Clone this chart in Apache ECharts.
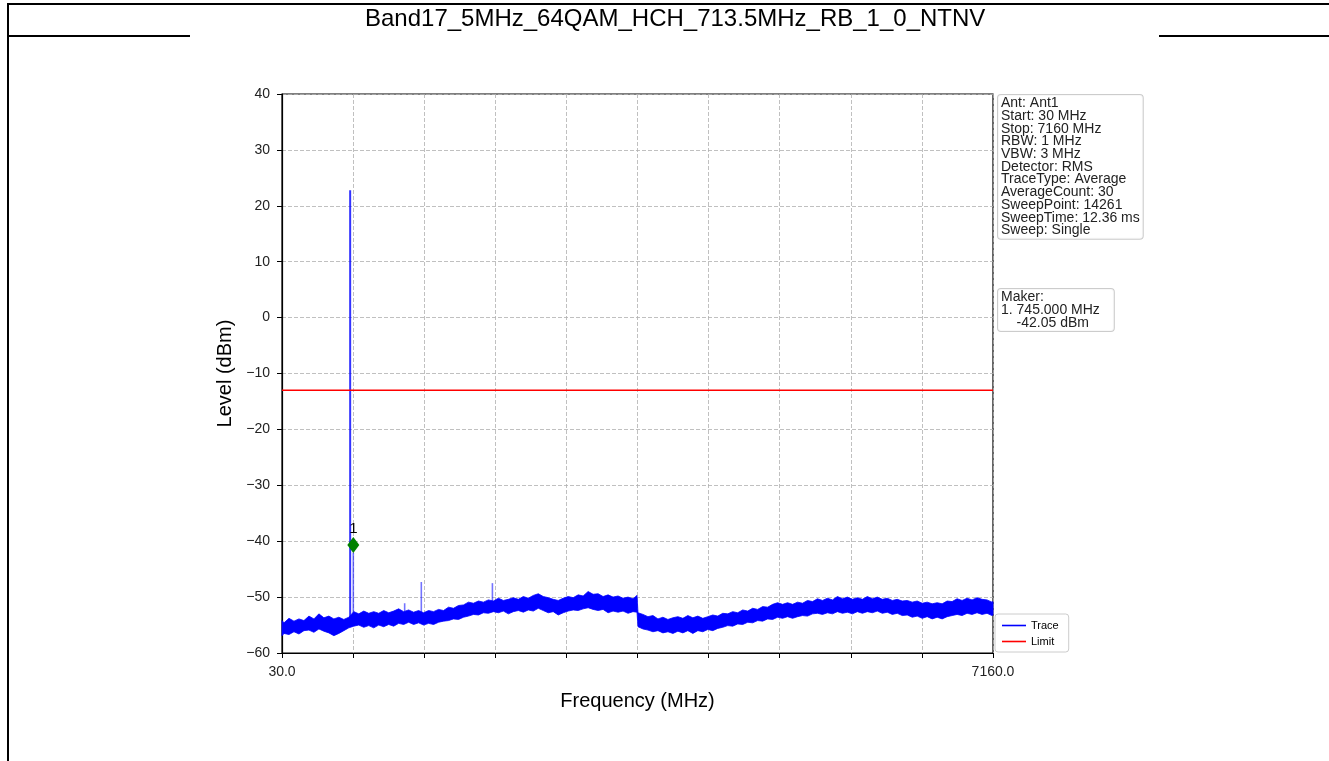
<!DOCTYPE html>
<html><head><meta charset="utf-8">
<script src="https://cdn.jsdelivr.net/npm/echarts@6/dist/echarts.min.js"></script>
<style>html,body{margin:0;padding:0;background:#fff}#c{width:1329px;height:761px}</style>
</head><body><div id="c"></div>
<script>
// ---------------- data ----------------
const chartTitle = 'Band17_5MHz_64QAM_HCH_713.5MHz_RB_1_0_NTNV';
const xAxisName = 'Frequency (MHz)';
const yAxisName = 'Level (dBm)';
const xTickValues = [30, 743, 1456, 2169, 2882, 3595, 4308, 5021, 5734, 6447, 7160];
const xTickLabels = ['30.0', '', '', '', '', '', '', '', '', '', '7160.0'];
const yTickValues = [-60, -50, -40, -30, -20, -10, 0, 10, 20, 30, 40];

// noise floor of the trace: frequency (MHz), upper and lower edge of the band (dBm)
const bandFreqs = [30, 50, 100, 150, 200, 250, 300, 350, 400, 450, 500, 550, 600, 650, 700, 750, 800, 850, 900, 950,
  1000, 1050, 1100, 1150, 1200, 1250, 1300, 1350, 1400, 1450, 1500, 1550, 1600, 1650, 1700, 1750, 1800, 1850, 1900, 1950,
  2000, 2050, 2100, 2150, 2200, 2250, 2300, 2350, 2400, 2450, 2500, 2550, 2600, 2650, 2700, 2750, 2800, 2850, 2900, 2950,
  3000, 3050, 3100, 3150, 3200, 3250, 3300, 3350, 3400, 3450, 3500, 3550, 3590, 3600, 3650, 3700, 3750, 3800, 3850, 3900, 3950,
  4000, 4050, 4100, 4150, 4200, 4250, 4300, 4350, 4400, 4450, 4500, 4550, 4600, 4650, 4700, 4750, 4800, 4850, 4900, 4950,
  5000, 5050, 5100, 5150, 5200, 5250, 5300, 5350, 5400, 5450, 5500, 5550, 5600, 5650, 5700, 5750, 5800, 5850, 5900, 5950,
  6000, 6050, 6100, 6150, 6200, 6250, 6300, 6350, 6400, 6450, 6500, 6550, 6600, 6650, 6700, 6750, 6800, 6850, 6900, 6950,
  7000, 7050, 7100, 7150, 7160];
const bandUpper = [-54.2, -54.6, -53.8, -54.3, -53.9, -54.2, -53.4, -53.9, -53.0, -53.7, -53.4, -53.9, -53.6, -54.0, -53.6, -52.6, -53.0, -52.5, -52.9, -52.6,
  -52.9, -52.4, -52.8, -52.5, -52.1, -52.6, -52.3, -52.7, -52.4, -52.8, -52.4, -52.6, -52.2, -52.4, -51.8, -52.0, -51.5, -51.4, -50.9, -51.1,
  -50.7, -50.9, -50.5, -50.7, -50.2, -50.6, -50.4, -50.1, -50.4, -49.9, -50.2, -49.7, -49.4, -49.9, -50.1, -50.4, -50.6, -50.2, -49.9, -50.1,
  -49.6, -49.8, -49.0, -49.5, -49.4, -49.9, -49.6, -50.0, -49.8, -50.2, -50.0, -50.3, -49.7, -52.8, -53.1, -53.5, -53.3, -53.9, -53.6, -54.0, -53.7,
  -53.5, -53.8, -53.3, -53.7, -53.4, -53.8, -53.5, -53.2, -53.4, -52.9, -53.0, -52.6, -52.8, -52.3, -52.5, -52.0, -52.2, -51.7, -51.8, -51.3,
  -51.0, -51.3, -51.0, -51.3, -50.9, -51.1, -50.6, -50.8, -50.3, -50.6, -50.2, -50.5, -49.9, -50.3, -50.0, -50.4, -50.1, -50.4, -49.9, -50.3,
  -50.0, -50.4, -50.2, -50.6, -50.4, -50.7, -50.6, -50.9, -50.7, -51.1, -50.9, -51.2, -51.0, -51.2, -50.7, -50.8, -50.3, -50.6, -50.2, -50.5,
  -50.1, -50.4, -50.5, -50.9, -50.8];
const bandLower = [-56.9, -56.5, -56.7, -56.2, -56.6, -56.0, -55.9, -56.3, -55.7, -56.1, -56.4, -56.9, -56.5, -56.0, -55.5, -55.2, -55.0, -55.4, -55.1, -55.5,
  -55.0, -55.3, -54.9, -55.2, -54.7, -54.9, -54.5, -54.9, -54.6, -55.0, -54.7, -54.9, -54.5, -54.3, -54.2, -53.9, -54.0, -53.6, -53.4, -53.1,
  -53.2, -52.8, -52.9, -52.6, -52.8, -52.5, -53.0, -52.6, -52.4, -52.7, -52.3, -52.5, -52.0, -52.4, -52.8, -52.6, -53.2, -52.8, -52.5, -52.3,
  -52.4, -52.1, -51.9, -52.2, -52.4, -52.2, -52.8, -52.5, -52.7, -52.5, -52.9, -52.6, -52.7, -55.3, -55.7, -55.9, -56.2, -56.0, -56.4, -56.2, -56.5,
  -56.1, -56.4, -56.0, -56.5, -56.0, -56.2, -55.8, -56.0, -55.6, -55.4, -55.1, -55.2, -54.8, -54.9, -54.5, -54.6, -54.2, -54.3, -53.9, -54.0,
  -53.6, -53.8, -53.5, -53.8, -53.5, -53.3, -53.4, -53.0, -52.9, -53.1, -52.8, -53.0, -52.6, -52.9, -52.7, -53.0, -52.6, -52.9, -52.6, -52.8,
  -52.5, -52.9, -52.7, -53.1, -52.9, -53.3, -53.2, -53.6, -53.4, -53.8, -53.5, -53.9, -53.6, -53.9, -53.5, -53.3, -53.1, -53.3, -52.9, -53.1,
  -52.8, -53.1, -52.9, -53.3, -53.2];

// narrow spurs rising out of the noise floor
const spikeFreqs = [713.5, 745, 1260, 1427, 2140];
const spikeBase = [-55.0, -54.5, -53.5, -53.8, -52.5];
const spikeTop = [22.8, -42.05, -51.1, -47.3, -47.5];

// limit line
const limitFreqs = [30, 7160];
const limitLevels = [-13, -13];

// marker
const markerFreqs = [745];
const markerLevels = [-40.7];
const markerNames = ['1'];

const infoLines = ['Ant: Ant1', 'Start: 30 MHz', 'Stop: 7160 MHz', 'RBW: 1 MHz', 'VBW: 3 MHz', 'Detector: RMS', 'TraceType: Average', 'AverageCount: 30', 'SweepPoint: 14261', 'SweepTime: 12.36 ms', 'Sweep: Single'];
const makerLines = ['Maker:', '1. 745.000 MHz', '    -42.05 dBm'];

// ---------------- chart ----------------
const FONT = 'Liberation Sans, Arial, Helvetica, sans-serif';
const chart = echarts.init(document.getElementById('c'), null, {renderer: 'canvas'});

const bandData = bandFreqs.map((f, i) => [f, bandLower[i], bandUpper[i]]);
const spikeData = spikeFreqs.map((f, i) => [f, spikeBase[i], spikeTop[i]]);

function fmtY(v) { return v < 0 ? '\u2212' + Math.abs(v) : String(v); }
function fmtX(v) {
  for (let i = 0; i < xTickValues.length; i++) {
    if (Math.abs(v - xTickValues[i]) < 0.5) return xTickLabels[i];
  }
  return '';
}

const option = {
  animation: false,
  backgroundColor: '#fff',
  textStyle: {fontFamily: FONT},
  grid: {left: 282, right: 336, top: 94, bottom: 108, show: true, borderColor: '#000', borderWidth: 1.2, outerBoundsMode: 'none'},
  xAxis: {
    type: 'value',
    min: xTickValues[0], max: xTickValues[xTickValues.length - 1],
    interval: xTickValues[1] - xTickValues[0],
    name: xAxisName, nameLocation: 'middle', nameGap: 38,
    nameTextStyle: {fontSize: 20, color: '#000', fontFamily: FONT},
    axisLine: {onZero: false, lineStyle: {color: '#000', width: 1.2}},
    axisTick: {show: true, length: 5, lineStyle: {color: '#000', width: 1}},
    axisLabel: {formatter: fmtX, fontSize: 14, color: '#222', margin: 12, fontFamily: FONT, showMinLabel: true, showMaxLabel: true},
    splitLine: {show: true, lineStyle: {color: '#b0b0b0', type: [4, 2], width: 0.8}}
  },
  yAxis: {
    type: 'value',
    min: yTickValues[0], max: yTickValues[yTickValues.length - 1],
    interval: yTickValues[1] - yTickValues[0],
    name: yAxisName, nameLocation: 'middle', nameGap: 41, nameRotate: 90,
    nameTextStyle: {fontSize: 20, color: '#000', fontFamily: FONT},
    axisLine: {show: true, onZero: false, lineStyle: {color: '#000', width: 1.2}},
    axisTick: {show: true, length: 5, lineStyle: {color: '#000', width: 1}},
    axisLabel: {formatter: fmtY, fontSize: 14, color: '#222', margin: 12, fontFamily: FONT},
    splitLine: {show: true, lineStyle: {color: '#b0b0b0', type: [4, 2], width: 0.8}}
  },
  legend: {
    data: [{name: 'Trace', icon: 'rect'}, {name: 'Limit', icon: 'rect'}],
    orient: 'vertical', left: 995, top: 614,
    itemWidth: 24, itemHeight: 1.6, itemGap: 5,
    padding: [6, 10, 5, 7],
    borderColor: '#cccccc', borderWidth: 1, borderRadius: 3,
    backgroundColor: 'rgba(255,255,255,0.85)',
    textStyle: {fontSize: 11, color: '#000', fontFamily: FONT},
    selectedMode: false
  },
  series: [
    {
      name: 'Trace', type: 'custom', data: bandData,
      encode: {x: 0, y: [1, 2]},
      itemStyle: {color: '#0000ff'},
      renderItem: function (params, api) {
        if (params.dataIndex !== 0) return null;
        const pts = [];
        for (let i = 0; i < bandFreqs.length; i++) pts.push(api.coord([bandFreqs[i], bandUpper[i]]));
        for (let i = bandFreqs.length - 1; i >= 0; i--) pts.push(api.coord([bandFreqs[i], bandLower[i]]));
        return {type: 'polygon', shape: {points: pts}, style: {fill: '#0000ff', stroke: '#0000ff', lineWidth: 0.8}};
      },
      z: 3
    },
    {
      name: 'Trace', type: 'custom', data: spikeData,
      encode: {x: 0, y: [1, 2]},
      itemStyle: {color: '#0000ff'},
      renderItem: function (params, api) {
        const p1 = api.coord([api.value(0), api.value(1)]);
        const p2 = api.coord([api.value(0), api.value(2)]);
        const main = params.dataIndex === 0;
        return {type: 'line', shape: {x1: p1[0], y1: p1[1], x2: p2[0], y2: p2[1]},
          style: {stroke: '#0000ff', lineWidth: main ? 2 : 1.6, opacity: main ? 0.8 : 0.55}};
      },
      z: 4
    },
    {
      name: 'Limit', type: 'line',
      data: limitFreqs.map((f, i) => [f, limitLevels[i]]),
      symbol: 'none', lineStyle: {color: '#ff0000', width: 1.3}, itemStyle: {color: '#ff0000'},
      z: 5
    },
    {
      name: 'Marker', type: 'scatter',
      data: markerFreqs.map((f, i) => ({value: [f, markerLevels[i]], name: markerNames[i]})),
      symbol: 'diamond', symbolSize: [12, 16],
      itemStyle: {color: '#008000', opacity: 1},
      label: {show: true, position: 'top', distance: 1, formatter: p => p.name, fontSize: 15, color: '#000', fontFamily: FONT},
      z: 6
    }
  ],
  graphic: [
    {type: 'line', shape: {x1: 8, y1: 4, x2: 1329, y2: 4}, style: {stroke: '#000', lineWidth: 2}},
    {type: 'line', shape: {x1: 8, y1: 3, x2: 8, y2: 761}, style: {stroke: '#000', lineWidth: 2}},
    {type: 'line', shape: {x1: 8, y1: 36, x2: 190, y2: 36}, style: {stroke: '#000', lineWidth: 2}},
    {type: 'line', shape: {x1: 1159, y1: 36, x2: 1329, y2: 36}, style: {stroke: '#000', lineWidth: 2}},
    {type: 'text', left: 365, top: 7, style: {text: chartTitle, fontSize: 24, fill: '#000', font: '24px ' + FONT}},
    {type: 'text', left: 997, top: 94, z: 10,
      style: {text: infoLines.join('\n'), fontSize: 14, lineHeight: 12.7, fill: '#222', fontFamily: FONT,
        backgroundColor: 'rgba(255,255,255,0.85)', borderColor: '#cccccc', borderWidth: 1, borderRadius: 3,
        padding: [2, 3, 2, 3]}},
    {type: 'text', left: 997, top: 288, z: 10,
      style: {text: makerLines.join('\n'), fontSize: 14, lineHeight: 12.7, fill: '#222', fontFamily: FONT,
        backgroundColor: 'rgba(255,255,255,0.85)', borderColor: '#cccccc', borderWidth: 1, borderRadius: 3,
        padding: [2, 14, 2, 3]}}
  ]
};
chart.setOption(option);
</script>
</body></html>
